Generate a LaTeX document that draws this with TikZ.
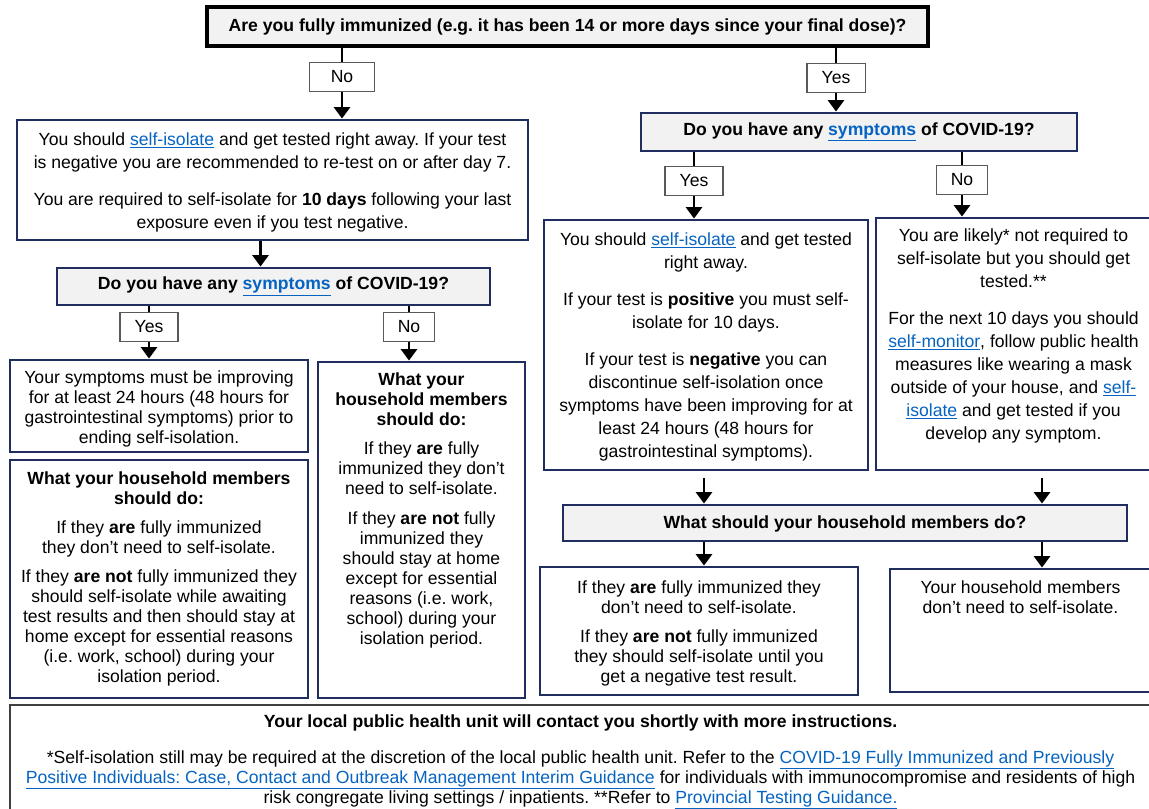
\documentclass[tikz,border=0pt]{standalone}
\usepackage{fontspec}
\setmainfont{Liberation Sans}
\usetikzlibrary{positioning,fit,arrows.meta}

\definecolor{navy}{RGB}{31,45,95}
\definecolor{qgray}{RGB}{242,242,242}
\definecolor{linkblue}{RGB}{5,99,193}
\newcommand{\lnk}[1]{\textcolor{linkblue}{\underline{#1}}}
\frenchspacing

\begin{document}
\begin{tikzpicture}
        [x=0.75pt,y=-0.75pt,
        panel/.style={draw=navy,line width=2.2pt,inner sep=0pt},
        question/.style={panel,fill=qgray},
        answer/.style={draw=black!65,line width=0.8pt,fill=white,inner xsep=11pt,
          minimum height=22pt,font=\fontsize{13.2}{15}\selectfont},
        words/.style={inner sep=0pt,align=center,font=\fontsize{13.2}{15}\selectfont},
        loose/.style={words,font=\fontsize{13.2}{17.25}\selectfont},
        bold/.style={words,font=\fontsize{13.2}{15}\selectfont\bfseries},
        conn/.style={-,line width=1.8pt},
        arr/.style={-{Triangle[width=12pt,length=8.5pt]},line width=1.8pt}]
        \useasboundingbox (0,0) rectangle (1149,808);
        %% first question
        \node[question,draw=black,line width=2.6pt,fit={(207,7)(928,46)}] (q0) {};
        \node[bold] (q0t) at (q0.center)
          {Are you fully immunized (e.g. it has been 14 or more days since your final dose)?};
        \node[answer,minimum width=49pt] (no1) at (342,77) {No};
        \node[answer] (yes1) at (836,78) {Yes};
        %% left branch
        \node[panel,fit={(17,120)(528,240)}] (b1) {};
        \node[loose,yshift=-1.5pt] (b1t) at (b1.center)
          {You should \lnk{self-isolate} and get tested right away. If your test\\
           is negative you are recommended to re-test on or after day 7.\\[10.5pt]
           You are required to self-isolate for \textbf{10 days} following your last\\
           exposure even if you test negative.};
        \node[question,fit={(57,268)(490,305)}] (q2) {};
        \node[bold] (q2t) at (q2.center)
          {Do you have any \lnk{symptoms} of COVID-19?};
        \node[answer] (yes3) at (149,327) {Yes};
        \node[answer] (no3) at (409,327) {No};
        \node[panel,fit={(10,360)(308,452)}] (ly) {};
        \node[words,yshift=-2pt] (lyt) at (ly.center)
          {Your symptoms must be improving\\
           for at least 24 hours (48 hours for\\
           gastrointestinal symptoms) prior to\\
           ending self-isolation.};
        \node[panel,fit={(10,460)(308,698)}] (lh) {};
        \node[words] (lht) at (lh.center)
          {\textbf{What your household members}\\
           \textbf{should do:}\\[7pt]
           If they \textbf{are} fully immunized\\
           they don't need to self-isolate.\\[7pt]
           If they \textbf{are not} fully immunized they\\
           should self-isolate while awaiting\\
           test results and then should stay at\\
           home except for essential reasons\\
           (i.e. work, school) during your\\
           isolation period.};
        \node[panel,fit={(318,362)(525,698)}] (ln) {};
        \node[words,below=9pt of ln.north] (lnt)
          {\textbf{What your}\\
           \textbf{household members}\\
           \textbf{should do:}\\[7pt]
           If they \textbf{are} fully\\
           immunized they don't\\
           need to self-isolate.\\[7pt]
           If they \textbf{are not} fully\\
           immunized they\\
           should stay at home\\
           except for essential\\
           reasons (i.e. work,\\
           school) during your\\
           isolation period.};
        %% right branch
        \node[question,fit={(641,113)(1077,151)}] (q1) {};
        \node[bold] (q1t) at (q1.center)
          {Do you have any \lnk{symptoms} of COVID-19?};
        \node[answer] (yes2) at (694,181) {Yes};
        \node[answer] (no2) at (962,180) {No};
        \node[panel,fit={(544,220)(868,470)}] (r1) {};
        \node[loose,yshift=-1.5pt] (r1t) at (r1.center)
          {You should \lnk{self-isolate} and get tested\\
           right away.\\[10.5pt]
           If your test is \textbf{positive} you must self-\\
           isolate for 10 days.\\[10.5pt]
           If your test is \textbf{negative} you can\\
           discontinue self-isolation once\\
           symptoms have been improving for at\\
           least 24 hours (48 hours for\\
           gastrointestinal symptoms).};
        \node[panel,fit={(876,218)(1151,470)}] (r2) {};
        \node[loose,below=9pt of r2.north] (r2t)
          {You are likely* not required to\\
           self-isolate but you should get\\
           tested.**\\[10.5pt]
           For the next 10 days you should\\
           \lnk{self-monitor}, follow public health\\
           measures like wearing a mask\\
           outside of your house, and \lnk{self-}\\
           \lnk{isolate} and get tested if you\\
           develop any symptom.};
        \node[question,fit={(563,505)(1127,541)}] (q3) {};
        \node[bold,yshift=-1pt] (q3t) at (q3.center)
          {What should your household members do?};
        \node[panel,fit={(540,567)(858,695)}] (r3) {};
        \node[words,yshift=-2pt] (r3t) at (r3.center)
          {If they \textbf{are} fully immunized they\\
           don't need to self-isolate.\\[7pt]
           If they \textbf{are not} fully immunized\\
           they should self-isolate until you\\
           get a negative test result.};
        \node[panel,fit={(890,569)(1151,692)}] (r4) {};
        \node[words,below=10pt of r4.north] (r4t)
          {Your household members\\
           don't need to self-isolate.};
        %% footnote
        \node[draw=black!75,line width=0.9pt,inner sep=0pt,fit={(10,705)(1151,811)}] (foot) {};
        \node[words,yshift=-3pt] (foott) at (foot.center)
          {\textbf{Your local public health unit will contact you shortly with more instructions.}\\[12pt]
           *Self-isolation still may be required at the discretion of the local public health unit. Refer to the \lnk{COVID-19 Fully Immunized and Previously}\\
           \lnk{Positive Individuals: Case, Contact and Outbreak Management Interim Guidance} for individuals with immunocompromise and residents of high\\
           risk congregate living settings / inpatients. **Refer to \lnk{Provincial Testing Guidance.}};
        %% connectors
        \coordinate (ax1) at (704,0);
        \coordinate (ax2) at (1042,0);
        \draw[conn] (q0.south -| no1.north) -- (no1.north);
        \draw[conn] (q0.south -| yes1.north) -- (yes1.north);
        \draw[arr] (no1.south) -- (b1.north -| no1.south);
        \draw[arr] (yes1.south) -- (q1.north -| yes1.south);
        \draw[arr] ([xshift=-9pt]b1.south) -- ([xshift=-9pt]b1.south |- q2.north);
        \path
        \foreach \startNode in {yes3, no3}
        {
          (q2.south -| \startNode.north) edge[conn] (\startNode.north)
        };
        \path
        \foreach \startNode in {yes2, no2}
        {
          (q1.south -| \startNode.north) edge[conn] (\startNode.north)
        };
        \foreach \startNode/\endNode in {yes3/ly, no3/ln, yes2/r1, no2/r2}
        {
          \draw[arr] (\startNode.south) -- (\endNode.north -| \startNode.south);
        }
        \draw[arr] ([yshift=-5pt]r1.south -| ax1) -- (q3.north -| ax1);
        \draw[arr] ([yshift=-5pt]r2.south -| ax2) -- (q3.north -| ax2);
        \draw[arr] (q3.south -| ax1) -- (r3.north -| ax1);
        \draw[arr] (q3.south -| ax2) -- (r4.north -| ax2);
        \end{tikzpicture}
\end{document}
